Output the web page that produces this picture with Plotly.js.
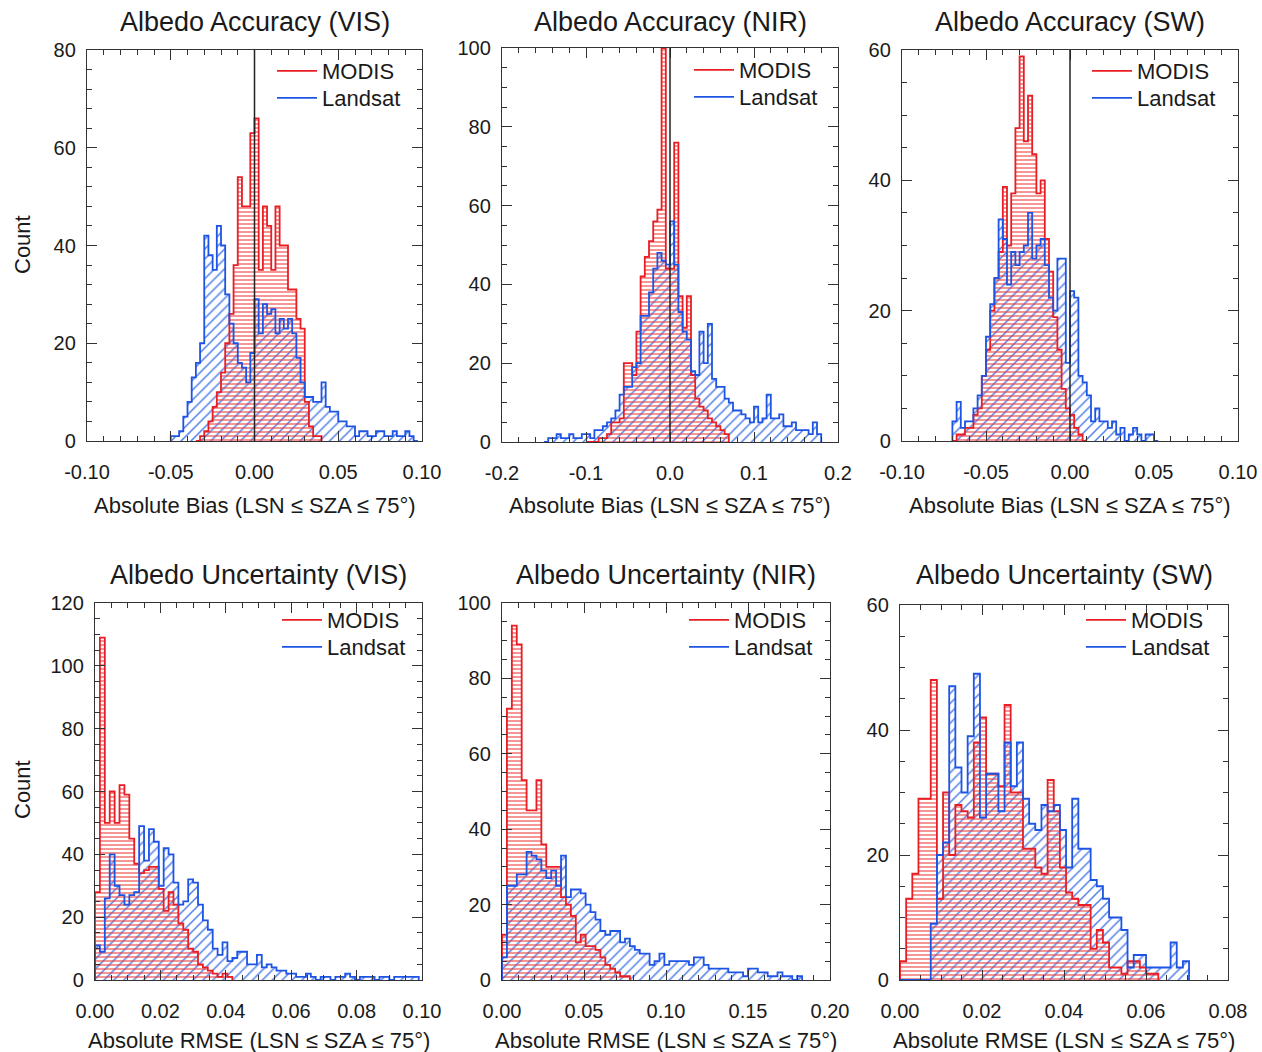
<!DOCTYPE html>
<html><head><meta charset="utf-8">
<script src="https://cdn.plot.ly/plotly-3.0.1.min.js"></script>
<style>html,body{margin:0;padding:0;background:#fff}#chart{width:1262px;height:1052px}</style>
</head><body><div id="chart"></div>
<script>
// ---------- DATA (histogram counts) ----------
const seriesNames = ["MODIS", "Landsat"];
const panelTitles = ["Albedo Accuracy (VIS)", "Albedo Accuracy (NIR)", "Albedo Accuracy (SW)",
                     "Albedo Uncertainty (VIS)", "Albedo Uncertainty (NIR)", "Albedo Uncertainty (SW)"];
const biasAxisTitle = "Absolute Bias (LSN \u2264 SZA \u2264 75\u00b0)";
const rmseAxisTitle = "Absolute RMSE (LSN \u2264 SZA \u2264 75\u00b0)";
const yAxisTitle = "Count";

// Panel 1: Accuracy VIS
const visBiasBinWidth = 0.0025;
const visBiasModisStart = -0.035;
const visBiasModis = [0,1,2,4,7,10,14,20,26,36,54,48,48,63,66,35,48,44,35,48,40,40,31,31,25,23,8,3,1,1];
const visBiasLandsatStart = -0.05;
const visBiasLandsat = [1,1,2,5,8,13,16,20,42,38,35,44,40,30,24,20,16,15,12,18,29,22,28,26,27,22,25,23,25,22,17,12,9,9,8,8,12,7,6,6,4,4,3,3,1,2,2,1,1,2,2,1,1,2,1,1,2,1,0];

// Panel 2: Accuracy NIR
const nirBiasBinWidth = 0.005;
const nirBiasModisStart = -0.1;
const nirBiasModis = [0,0,0,1,1,2,5,5,6,20,20,17,28,42,47,51,56,59,100,44,44,76,37,29,37,17,11,9,8,6,5,4,3,2];
const nirBiasLandsatStart = -0.15;
const nirBiasLandsat = [0,1,1,2,1,1,2,1,1,2,2,1,3,3,4,5,6,8,12,14,14,19,20,32,32,38,44,48,46,45,56,45,33,28,26,18,17,28,20,30,16,14,14,11,10,8,8,7,6,5,9,5,6,12,6,6,7,4,4,5,3,3,3,2,5,2];

// Panel 3: Accuracy SW
const swBiasBinWidth = 0.0025;
const swBiasModisStart = -0.07;
const swBiasModis = [0,1,1,2,2,4,5,10,14,20,25,29,39,30,38,48,59,46,53,44,38,40,31,26,19,14,8,5,4,2,1,0];
const swBiasLandsatStart = -0.07;
const swBiasLandsat = [3,6,2,3,3,5,7,10,16,21,25,34,31,24,29,27,29,30,35,28,30,31,27,22,20,28,28,12,23,22,10,9,7,3,5,3,3,2,3,1,2,0,1,2,1,0,1,1,0];

// Panel 4: Uncertainty VIS
const visRmseBinWidth = 0.0015;
const visRmseModisStart = 0;
const visRmseModis = [28,109,50,60,50,62,59,45,37,34,35,36,36,29,22,28,24,18,16,10,9,5,4,3,2,1,2,1];
const visRmseLandsatStart = 0;
const visRmseLandsat = [11,9,26,40,30,27,24,27,28,49,38,48,44,30,42,40,31,24,25,32,31,24,19,16,10,8,12,6,7,9,9,5,5,8,4,5,4,3,3,2,2,1,1,2,1,0,1,1,0,1,1,2,1,0,1,1,1,0,1,1,0,1,1,1,1,1];

// Panel 5: Uncertainty NIR
const nirRmseBinWidth = 0.003;
const nirRmseModisStart = 0;
const nirRmseModis = [12,72,94,89,53,45,45,53,36,30,30,30,22,20,17,10,12,9,9,8,6,4,3,2,1,1];
const nirRmseLandsatStart = 0;
const nirRmseLandsat = [6,25,25,28,28,34,33,32,29,27,29,25,33,22,24,24,23,20,18,16,13,12,13,13,10,11,9,8,7,7,4,5,7,4,5,5,5,5,4,6,6,4,3,3,3,3,2,2,2,1,3,3,2,2,1,1,2,1,1,0,1];

// Panel 6: Uncertainty SW
const swRmseBinWidth = 0.0015;
const swRmseModisStart = 0;
const swRmseModis = [3,13,17,29,29,48,13,30,20,28,27,26,38,42,33,33,31,44,30,30,21,21,18,17,32,27,18,14,13,12,12,5,8,6,2,2,1,3,3,2,1,1];
const swRmseLandsatStart = 0;
const swRmseLandsat = [0,0,0,0,0,9,20,22,47,34,30,39,49,26,33,33,27,38,31,38,29,25,24,28,27,28,24,18,29,21,21,16,15,13,10,10,8,2,4,4,2,2,2,2,6,2,3];

// Axis tick values
const xTicksBiasVIS = [-0.10,-0.05,0.00,0.05,0.10];
const xTicksBiasNIR = [-0.2,-0.1,0.0,0.1,0.2];
const xTicksBiasSW  = [-0.10,-0.05,0.00,0.05,0.10];
const xTicksRmseVIS = [0.00,0.02,0.04,0.06,0.08,0.10];
const xTicksRmseNIR = [0.00,0.05,0.10,0.15,0.20];
const xTicksRmseSW  = [0.00,0.02,0.04,0.06,0.08];
const yTicks1 = [0,20,40,60,80];
const yTicks2 = [0,20,40,60,80,100];
const yTicks3 = [0,20,40,60];
const yTicks4 = [0,20,40,60,80,100,120];
const yTicks5 = [0,20,40,60,80,100];
const yTicks6 = [0,20,40,60];

// ---------- STYLE / LAYOUT ----------
const W = 1262, H = 1052;
const FONT = "Liberation Sans, Arial, Helvetica, sans-serif";
const RED = "rgb(232,30,36)", BLUE = "rgb(30,84,228)";
const RED_H = "rgba(236,60,60,0.9)", BLUE_H = "rgba(50,105,230,0.85)";
const AX = "#333";

// panel boxes in pixels [left, right, top, bottom]
const boxes = [
  [87, 422, 50, 441], [502, 838, 48, 442], [902, 1238, 50, 441],
  [95, 422, 603, 980], [502, 830, 603, 980], [900, 1228, 605, 980]
];
// legend placement in pixels: [line start x, first entry centre y]
const legendPos = [[278, 71], [695, 70], [1093, 71], [283, 620], [690, 620], [1087, 620]];
const legendStep = 27;

const panels = [
  {w: visBiasBinWidth, ms: visBiasModisStart, m: visBiasModis, ls: visBiasLandsatStart, l: visBiasLandsat, xr: [-0.10, 0.10], xt: xTicksBiasVIS, xd: 2, xminor: 0.01, yr: [0, 80], yt: yTicks1, yminor: 4, zero: true},
  {w: nirBiasBinWidth, ms: nirBiasModisStart, m: nirBiasModis, ls: nirBiasLandsatStart, l: nirBiasLandsat, xr: [-0.2, 0.2], xt: xTicksBiasNIR, xd: 1, xminor: 0.02, yr: [0, 100], yt: yTicks2, yminor: 5, zero: true},
  {w: swBiasBinWidth, ms: swBiasModisStart, m: swBiasModis, ls: swBiasLandsatStart, l: swBiasLandsat, xr: [-0.10, 0.10], xt: xTicksBiasSW, xd: 2, xminor: 0.01, yr: [0, 60], yt: yTicks3, yminor: 5, zero: true},
  {w: visRmseBinWidth, ms: visRmseModisStart, m: visRmseModis, ls: visRmseLandsatStart, l: visRmseLandsat, xr: [0, 0.10], xt: xTicksRmseVIS, xd: 2, xminor: 0.005, yr: [0, 120], yt: yTicks4, yminor: 5, zero: false},
  {w: nirRmseBinWidth, ms: nirRmseModisStart, m: nirRmseModis, ls: nirRmseLandsatStart, l: nirRmseLandsat, xr: [0, 0.20], xt: xTicksRmseNIR, xd: 2, xminor: 0.01, yr: [0, 100], yt: yTicks5, yminor: 5, zero: false},
  {w: swRmseBinWidth, ms: swRmseModisStart, m: swRmseModis, ls: swRmseLandsatStart, l: swRmseLandsat, xr: [0, 0.08], xt: xTicksRmseSW, xd: 2, xminor: 0.005, yr: [0, 60], yt: yTicks6, yminor: 5, zero: false}
];

function stepOutline(start, w, counts) {
  const xs = [start], ys = [0];
  counts.forEach((c, i) => { xs.push(start + i * w); ys.push(c); });
  xs.push(start + counts.length * w); ys.push(0);
  return {xs, ys};
}
function lgName(i) { return i === 1 ? "legend" : "legend" + i; }

const traces = [];
const layout = {
  width: W, height: H, margin: {l: 0, r: 0, t: 0, b: 0},
  paper_bgcolor: "#fff", plot_bgcolor: "rgba(0,0,0,0)",
  barmode: "overlay", bargap: 0, showlegend: true,
  font: {family: FONT, color: "#1a1a1a"},
  shapes: [], annotations: []
};

panels.forEach((p, k) => {
  const n = k + 1;
  const xa = "x" + (n === 1 ? "" : n), ya = "y" + (n === 1 ? "" : n);
  const lgM = lgName(2 * k + 1), lgL = lgName(2 * k + 2);
  const b = boxes[k];
  // hatched fills
  traces.push({type: "bar", x0: p.ls + p.w / 2, dx: p.w, y: p.l, width: p.w, xaxis: xa, yaxis: ya,
    marker: {color: BLUE_H, line: {width: 0}, pattern: {shape: "/", fgcolor: BLUE_H, bgcolor: "rgba(0,0,0,0)", size: 7, solidity: 0.22}},
    showlegend: false, hoverinfo: "skip"});
  traces.push({type: "bar", x0: p.ms + p.w / 2, dx: p.w, y: p.m, width: p.w, xaxis: xa, yaxis: ya,
    marker: {color: RED_H, line: {width: 0}, pattern: {shape: "-", fgcolor: RED_H, bgcolor: "rgba(0,0,0,0)", size: 4, solidity: 0.3}},
    showlegend: false, hoverinfo: "skip"});
  // outlines (these carry the legend entries)
  const ro = stepOutline(p.ms, p.w, p.m), bo = stepOutline(p.ls, p.w, p.l);
  traces.push({type: "scatter", mode: "lines", x: ro.xs, y: ro.ys, xaxis: xa, yaxis: ya, name: seriesNames[0],
    line: {color: RED, width: 1.8, shape: "hv"}, legend: lgM, hoverinfo: "skip"});
  traces.push({type: "scatter", mode: "lines", x: bo.xs, y: bo.ys, xaxis: xa, yaxis: ya, name: seriesNames[1],
    line: {color: BLUE, width: 1.8, shape: "hv"}, legend: lgL, hoverinfo: "skip"});

  const common = {showline: true, linecolor: AX, linewidth: 1.2, mirror: "ticks", ticks: "inside",
    tickcolor: AX, tickwidth: 1, showgrid: false, zeroline: false, tickfont: {size: 20, family: FONT, color: "#1a1a1a"}, fixedrange: true};
  layout["xaxis" + (n === 1 ? "" : n)] = Object.assign({}, common, {
    domain: [b[0] / W, b[1] / W], anchor: ya, range: p.xr, tickmode: "array", tickvals: p.xt,
    ticktext: p.xt.map(v => v.toFixed(p.xd)), ticklen: 10,
    ticklabelstandoff: 13, minor: {ticks: "inside", ticklen: 5, dtick: p.xminor, tickcolor: AX}
  });
  layout["yaxis" + (n === 1 ? "" : n)] = Object.assign({}, common, {
    domain: [1 - b[3] / H, 1 - b[2] / H], anchor: xa, range: p.yr, tickmode: "array", tickvals: p.yt,
    ticktext: p.yt.map(v => String(v)), ticklen: 10,
    ticklabelstandoff: 6, minor: {ticks: "inside", ticklen: 5, dtick: p.yminor, tickcolor: AX}
  });
  const lp = legendPos[k];
  [lgM, lgL].forEach((name, j) => {
    layout[name] = {x: (lp[0] - 6) / W, y: 1 - (lp[1] + j * legendStep) / H, xanchor: "left", yanchor: "middle",
      bgcolor: "rgba(0,0,0,0)", font: {size: 22, family: FONT, color: "#1a1a1a"}, itemwidth: 40};
  });
  if (p.zero) {
    layout.shapes.push({type: "line", xref: xa, yref: ya + " domain", x0: 0, x1: 0, y0: 0, y1: 1, line: {color: "#222", width: 1.5}});
  }
  // titles
  const cx = (b[0] + b[1]) / 2;
  layout.annotations.push({text: panelTitles[k], xref: "paper", yref: "paper", x: cx / W, y: 1 - (k < 3 ? 22 : 575) / H,
    xanchor: "center", yanchor: "middle", showarrow: false, font: {size: 27, family: FONT, color: "#1a1a1a"}});
  layout.annotations.push({text: k < 3 ? biasAxisTitle : rmseAxisTitle, xref: "paper", yref: "paper", x: cx / W,
    y: 1 - (k < 3 ? 505 : 1040) / H, xanchor: "center", yanchor: "middle", showarrow: false, font: {size: 22, family: FONT, color: "#1a1a1a"}});
  if (k === 0 || k === 3) {
    layout.annotations.push({text: yAxisTitle, xref: "paper", yref: "paper", x: 22 / W, y: 1 - (k === 0 ? 245 : 790) / H,
      xanchor: "center", yanchor: "middle", textangle: -90, showarrow: false, font: {size: 22, family: FONT, color: "#1a1a1a"}});
  }
});

Plotly.newPlot("chart", traces, layout, {staticPlot: true, displayModeBar: false});
</script></body></html>
